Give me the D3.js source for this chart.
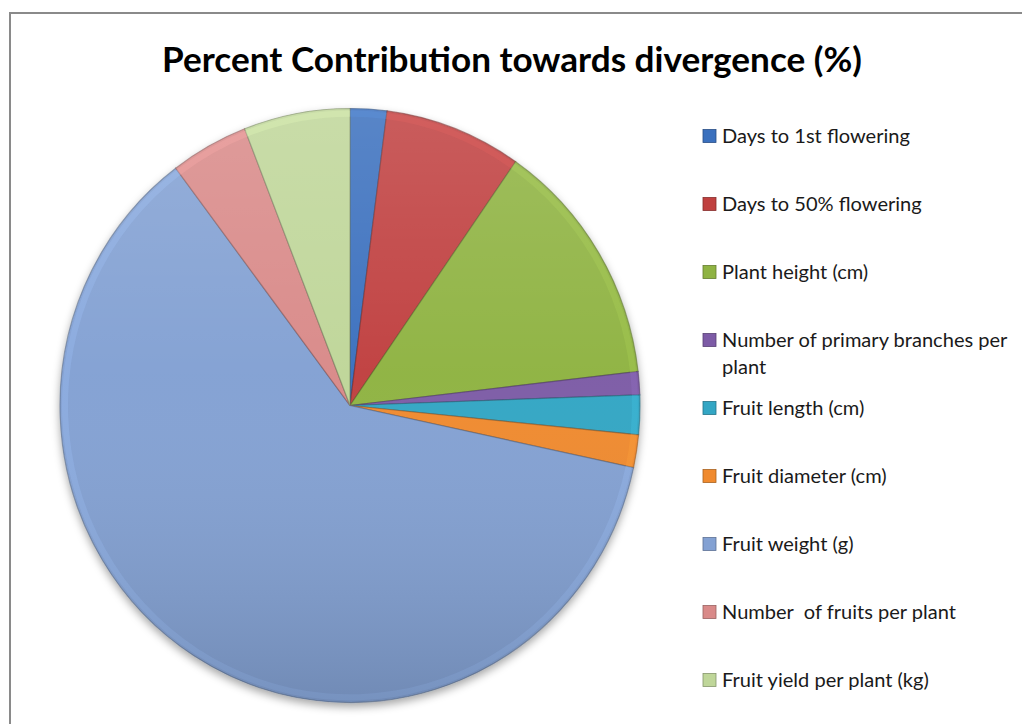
<!DOCTYPE html>
<html>
<head>
<meta charset="utf-8">
<script src="https://cdn.jsdelivr.net/npm/d3@7"></script>
<style>
  body { margin: 0; background: #fff; }
  svg { display: block; }
</style>
</head>
<body>
<svg id="chart" width="1022" height="724"></svg>
<script>
'use strict';

// chart data
var titleText = 'Percent Contribution towards divergence (%)';
var categories = [
  'Days to 1st flowering',
  'Days to 50% flowering',
  'Plant height (cm)',
  'Number of primary branches per plant',
  'Fruit length (cm)',
  'Fruit diameter (cm)',
  'Fruit weight (g)',
  'Number  of fruits per plant',
  'Fruit yield per plant (kg)'
];
var values = [2.04, 7.64, 13.5, 1.26, 2.15, 1.78, 61.4, 4.35, 5.92];
var colors = ['#3a70be', '#c0403f', '#8fb343', '#7d5ba6', '#33a6c4', '#f08a2e', '#83a1d3', '#d98a89', '#bfd699'];

var svg = d3.select('#chart');
var defs = svg.append('defs');
var font = 'Lato, "Open Sans", sans-serif';

// frame
svg.append('rect')
    .attr('x', 10).attr('y', 13)
    .attr('width', 1040).attr('height', 740)
    .attr('fill', 'none')
    .attr('stroke', '#8a8a8a')
    .attr('stroke-width', 2);

// title, fitted to the width of the original
var title = svg.append('text')
    .attr('x', 512).attr('y', 72)
    .attr('text-anchor', 'middle')
    .style('font-family', font)
    .style('font-weight', 'bold')
    .style('font-size', '33px')
    .attr('fill', '#000')
    .text(titleText);
var tw = title.node().getComputedTextLength();
title.style('font-size', (33 * 700 / tw) + 'px');

// shading
var shadow = defs.append('filter').attr('id', 'shadow')
    .attr('x', '-10%').attr('y', '-10%').attr('width', '120%').attr('height', '125%');
shadow.append('feDropShadow')
    .attr('dx', 0).attr('dy', 4).attr('stdDeviation', 4)
    .attr('flood-color', '#000').attr('flood-opacity', 0.35);

var shade = defs.append('linearGradient').attr('id', 'shade')
    .attr('x1', 0).attr('y1', 0).attr('x2', 0).attr('y2', 1);
shade.append('stop').attr('offset', '0%').attr('stop-color', '#fff').attr('stop-opacity', 0.15);
shade.append('stop').attr('offset', '45%').attr('stop-color', '#fff').attr('stop-opacity', 0.02);
shade.append('stop').attr('offset', '100%').attr('stop-color', '#000').attr('stop-opacity', 0.14);

var cx = 350, cy = 405.5, r = 290, ry = 297;

var pie = d3.pie().sort(null).value(function(d) { return d; });
var arcs = pie(values);
var arc = d3.arc().innerRadius(0).outerRadius(r);
var rim = d3.arc().innerRadius(r - 8).outerRadius(r - 2);

var g = svg.append('g')
    .attr('transform', 'translate(' + cx + ',' + cy + ') scale(1,' + (ry / r) + ')');

var body = g.append('g').attr('filter', 'url(#shadow)');
body.selectAll('path.slice')
    .data(arcs)
    .enter()
    .append('path')
    .attr('class', 'slice')
    .attr('d', arc)
    .attr('fill', function(d, i) { return colors[i]; })
    .attr('stroke', function(d, i) { return d3.color(colors[i]).darker(1.5); })
    .attr('stroke-width', 1.2)
    .attr('stroke-opacity', 0.55);

// soft bevel along the outer rim
g.selectAll('path.rim')
    .data(arcs)
    .enter()
    .append('path')
    .attr('class', 'rim')
    .attr('d', rim)
    .attr('fill', function(d, i) { return d3.color(colors[i]).brighter(0.4); })
    .attr('opacity', 0.35);

g.append('circle')
    .attr('r', r)
    .attr('fill', 'url(#shade)');

// legend
var legend = svg.append('g').attr('transform', 'translate(703,136)');
var item = legend.selectAll('g.item')
    .data(categories)
    .enter()
    .append('g')
    .attr('class', 'item')
    .attr('transform', function(d, i) { return 'translate(0,' + (i * 68) + ')'; });

item.append('rect')
    .attr('x', 0).attr('y', -6.5)
    .attr('width', 13).attr('height', 13)
    .attr('fill', function(d, i) { return colors[i]; })
    .attr('stroke', function(d, i) { return d3.color(colors[i]).darker(1); })
    .attr('stroke-width', 0.8);

var labels = item.append('text')
    .attr('x', 19).attr('y', 6.5)
    .style('font-family', font)
    .style('font-size', '18px')
    .style('white-space', 'pre')
    .attr('fill', '#1a1a1a')
    .each(function(d) {
      var t = d3.select(this);
      // wrap the long label as in the original
      if (d.length > 30) {
        var words = d.split(' ');
        t.append('tspan').attr('x', 19).text(words.slice(0, -1).join(' '));
        t.append('tspan').attr('x', 19).attr('dy', 27).text(words[words.length - 1]);
      } else {
        t.text(d);
      }
    });
var lw = labels.node().getComputedTextLength();
labels.style('font-size', (18 * 188 / lw) + 'px');
</script>
</body>
</html>
